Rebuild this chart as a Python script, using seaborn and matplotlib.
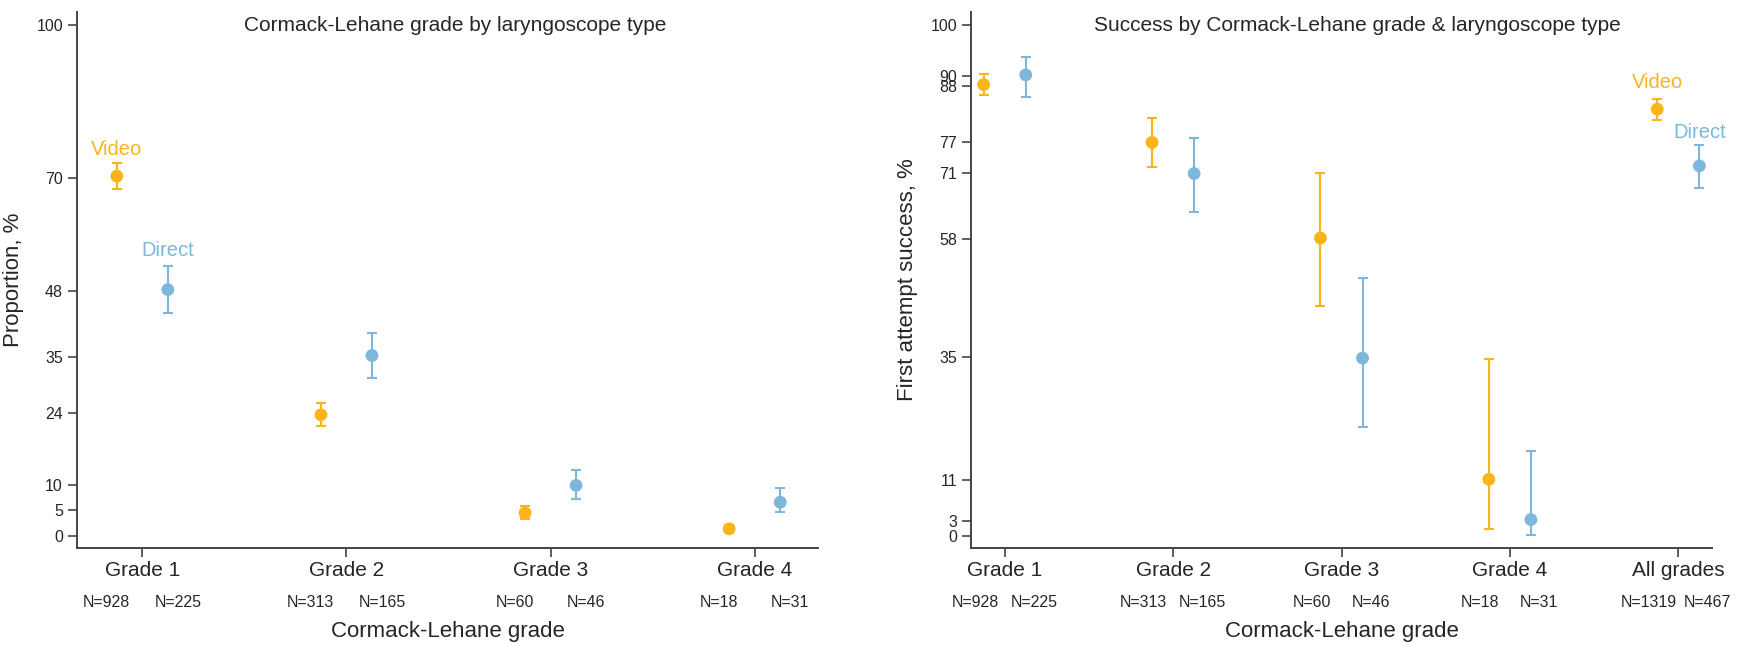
import pandas as pd
import matplotlib
matplotlib.use("Agg")
import matplotlib.pyplot as plt
import seaborn as sns
from matplotlib.transforms import blended_transform_factory

sns.set_style("ticks")
plt.rcParams['font.family'] = ['Liberation Sans', 'DejaVu Sans']

# categories
grades = ["Grade 1", "Grade 2", "Grade 3", "Grade 4"]
grades_all = grades + ["All grades"]
scopes = ["Video", "Direct"]

# number of patients
n_video = [928, 313, 60, 18, 1319]
n_direct = [225, 165, 46, 31, 467]

# proportion with each grade, % (estimate, lower, upper)
prop_video = [70.4, 23.7, 4.5, 1.4]
prop_video_lo = [67.9, 21.5, 3.4, 0.8]
prop_video_hi = [72.9, 26.1, 5.8, 2.1]
prop_direct = [48.2, 35.3, 9.9, 6.6]
prop_direct_lo = [43.6, 31.0, 7.3, 4.6]
prop_direct_hi = [52.8, 39.8, 12.9, 9.3]

# first attempt success, % (estimate, lower, upper)
succ_video = [88.3, 77.0, 58.3, 11.1, 83.5]
succ_video_lo = [86.2, 72.2, 45.0, 1.4, 81.3]
succ_video_hi = [90.3, 81.8, 71.0, 34.7, 85.5]
succ_direct = [90.2, 70.9, 34.8, 3.2, 72.4]
succ_direct_lo = [85.8, 63.4, 21.3, 0.1, 68.1]
succ_direct_hi = [93.7, 77.9, 50.5, 16.7, 76.4]

left_yticks = [0, 5, 10, 24, 35, 48, 70, 100]
right_yticks = [0, 3, 11, 35, 58, 71, 77, 88, 90, 100]

palette = {"Video": "#FBB41A", "Direct": "#7DB8DC"}
axis_col = "#444444"
dodge = 0.125


def make_df(cats, est_v, lo_v, hi_v, est_d, lo_d, hi_d):
    rows = []
    for i, c in enumerate(cats):
        rows.append(dict(grade=c, scope="Video", pos=i + 1 - dodge,
                         est=est_v[i], lo=lo_v[i], hi=hi_v[i], n=n_video[i]))
        rows.append(dict(grade=c, scope="Direct", pos=i + 1 + dodge,
                         est=est_d[i], lo=lo_d[i], hi=hi_d[i], n=n_direct[i]))
    return pd.DataFrame(rows)


def draw_panel(ax, df, cats, yticks, xlim, title, title_x, ylabel, label_xy):
    for scope in scopes:
        sub = df[df["scope"] == scope]
        ax.errorbar(sub["pos"], sub["est"],
                    yerr=[sub["est"] - sub["lo"], sub["hi"] - sub["est"]],
                    fmt="none", ecolor=palette[scope], elinewidth=1.5,
                    capsize=3.8, capthick=1.5, zorder=2)
    sns.scatterplot(data=df, x="pos", y="est", hue="scope", palette=palette,
                    s=85, edgecolor="none", legend=False, ax=ax, zorder=3)

    ax.set_xlim(*xlim)
    ax.set_ylim(-2.35, 102.5)
    ax.set_xticks(range(1, len(cats) + 1))
    ax.set_xticklabels(cats, fontsize=15)
    ax.set_yticks(yticks)
    ax.set_yticklabels([str(t) for t in yticks], fontsize=11.5)
    ax.tick_params(axis="both", length=6.5, width=1.2, color=axis_col)
    ax.tick_params(axis="x", pad=3)
    ax.tick_params(axis="y", pad=3.6)
    sns.despine(ax=ax)
    for side in ["left", "bottom"]:
        ax.spines[side].set_linewidth(1.4)
        ax.spines[side].set_color(axis_col)

    # N under each group
    trans = blended_transform_factory(ax.transData, ax.transAxes)
    for i in range(len(cats)):
        ax.text(i + 1 - 0.175, -0.1026, f"N={n_video[i]}", transform=trans,
                ha="center", va="center", fontsize=11.5)
        ax.text(i + 1 + 0.175, -0.1026, f"N={n_direct[i]}", transform=trans,
                ha="center", va="center", fontsize=11.5)

    ax.set_xlabel("Cormack-Lehane grade", fontsize=16)
    ax.xaxis.label.set_va("center")
    ax.xaxis.set_label_coords(0.5, -0.1567)
    ax.set_ylabel(ylabel, fontsize=16)
    ax.yaxis.label.set_va("center")
    ax.yaxis.set_label_coords(-64 / 741, 0.5)

    ax.text(title_x, 0.9757, title, transform=ax.transAxes,
            ha="center", va="center", fontsize=15)

    (vx, vy), (dx, dy) = label_xy
    ax.text(vx, vy, "Video", color=palette["Video"], ha="center",
            va="center", fontsize=14.5)
    ax.text(dx, dy, "Direct", color=palette["Direct"], ha="center",
            va="center", fontsize=14.5)


df_prop = make_df(grades, prop_video, prop_video_lo, prop_video_hi,
                  prop_direct, prop_direct_lo, prop_direct_hi)
df_succ = make_df(grades_all, succ_video, succ_video_lo, succ_video_hi,
                  succ_direct, succ_direct_lo, succ_direct_hi)

fig = plt.figure(figsize=(17.48, 6.46), dpi=100)
ax1 = fig.add_axes([0.04405, 0.1517, 0.4239, 0.8297])
ax2 = fig.add_axes([0.5555, 0.1517, 0.4239, 0.8297])

draw_panel(ax1, df_prop, grades, left_yticks, (0.68, 4.31),
           "Cormack-Lehane grade by laryngoscope type", 0.51,
           "Proportion, %", [(1 - dodge, 75.7), (1 + dodge, 55.8)])
draw_panel(ax2, df_succ, grades_all, right_yticks, (0.8, 5.2),
           "Success by Cormack-Lehane grade & laryngoscope type", 0.522,
           "First attempt success, %", [(5 - dodge, 88.8), (5 + dodge, 78.9)])

fig.savefig("out.png", dpi=100)
